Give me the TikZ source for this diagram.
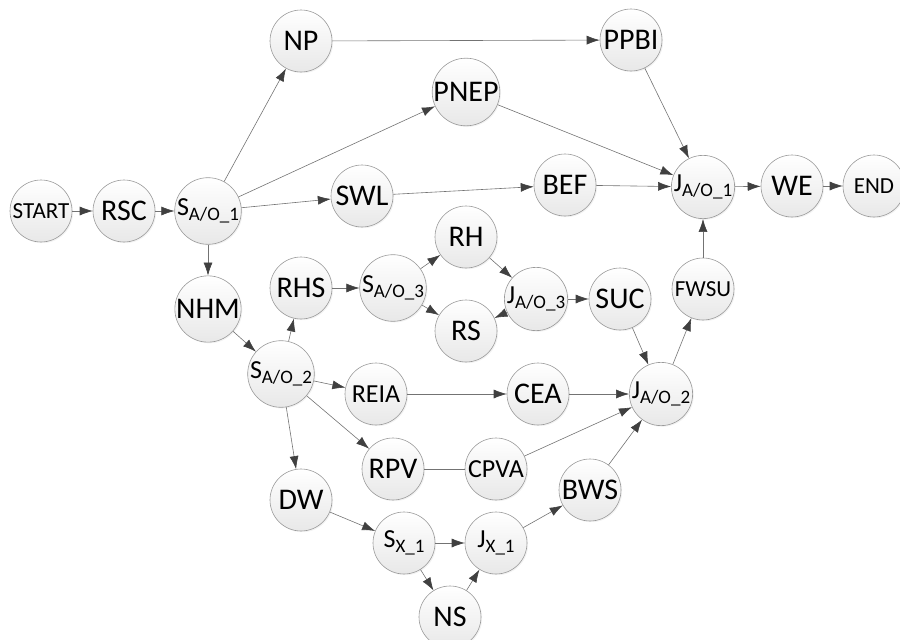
\documentclass[tikz,border=0pt]{standalone}
\usepackage{fontspec}
\setmainfont{Carlito}
\usetikzlibrary{arrows.meta,shadows}

% label with a lowered, smaller subscript part
\newcommand\sublab[2]{#1{\fontsize{19}{19}\selectfont\raisebox{-5.5pt}{#2}}}

\begin{document}
\begin{tikzpicture}[x=1pt,y=-1pt,
  state/.style={circle, minimum size=62pt, inner sep=0pt,
    draw=black!40, line width=0.6pt,
    top color=white, bottom color=black!9,
    drop shadow={opacity=0.10, shadow xshift=1.2pt, shadow yshift=-1.2pt},
    font=\fontsize{30}{32}\selectfont},
  smallfont/.style={font=\fontsize{23}{25}\selectfont},
  midfont/.style={font=\fontsize{26}{28}\selectfont},
  subfont/.style={font=\fontsize{26}{28}\selectfont},
  flow/.style={draw=black!55, line width=0.6pt,
    -{Latex[length=13pt,width=9pt,color=black!75]}},
  plain/.style={draw=black!55, line width=0.6pt}
]
\useasboundingbox (0,0) rectangle (900,640);

% main row
\node[state, smallfont] (start) at (41,211) {START};
\node[state] (rsc) at (124,211) {RSC};
\node[state, subfont] (sa1) at (208,211) {\sublab{S}{A/O\_1}};
\node[state] (swl) at (362,196) {SWL};
\node[state] (bef) at (565,185) {BEF};
\node[state, subfont] (ja1) at (703,187) {\sublab{J}{A/O\_1}};
\node[state] (we) at (792,186) {WE};
\node[state, smallfont] (end) at (874,186) {END};

% upper branch
\node[state] (np) at (301,41) {NP};
\node[state] (ppbi) at (631,40) {PPBI};
\node[state] (pnep) at (466,92) {PNEP};

% lower branches
\node[state] (nhm) at (208,309) {NHM};
\node[state] (rhs) at (301,288) {RHS};
\node[state, subfont] (sa3) at (393,288) {\sublab{S}{A/O\_3}};
\node[state] (rh) at (466,237) {RH};
\node[state] (rs) at (466,331) {RS};
\node[state, subfont] (ja3) at (536,299) {\sublab{J}{A/O\_3}};
\node[state] (suc) at (620,299) {SUC};
\node[state, smallfont] (fwsu) at (703,289) {FWSU};

\node[state, subfont] (sa2) at (281,374) {\sublab{S}{A/O\_2}};
\node[state, midfont] (reia) at (376,394) {REIA};
\node[state] (cea) at (538,394) {CEA};
\node[state, subfont] (ja2) at (661,394) {\sublab{J}{A/O\_2}};

\node[state] (rpv) at (393,469) {RPV};
\node[state, midfont] (cpva) at (496,469) {CPVA};
\node[state] (bws) at (590,490) {BWS};

\node[state] (dw) at (301,500) {DW};
\node[state, subfont] (sx1) at (404,543) {\sublab{S}{X\_1}};
\node[state, subfont] (jx1) at (496,543) {\sublab{J}{X\_1}};
\node[state] (ns) at (450,617) {NS};

% connectors
\draw[flow] (start) -- (rsc);
\draw[flow] (rsc) -- (sa1);
\draw[flow] (sa1) -- (np);
\draw[flow] (sa1) -- (pnep);
\draw[flow] (sa1) -- (swl);
\draw[flow] (sa1) -- (nhm);
\draw[flow] (np) -- (ppbi);
\draw[flow] (ppbi) -- (ja1);
\draw[flow] (pnep) -- (ja1);
\draw[flow] (swl) -- (bef);
\draw[flow] (bef) -- (ja1);
\draw[flow] (ja1) -- (we);
\draw[flow] (we) -- (end);
\draw[flow] (fwsu) -- (ja1);

\draw[flow] (nhm) -- (sa2);
\draw[flow] (sa2) -- (rhs);
\draw[flow] (rhs) -- (sa3);
\draw[flow] (sa3) -- (rh);
\draw[flow] (sa3) -- (rs);
\draw[flow] (rh) -- (ja3);
\draw[flow] (ja3) -- (rs);
\draw[flow] (ja3) -- (suc);
\draw[flow] (suc) -- (ja2);
\draw[flow] (ja2) -- (fwsu);

\draw[flow] (sa2) -- (reia);
\draw[flow] (reia) -- (cea);
\draw[flow] (cea) -- (ja2);
\draw[flow] (sa2) -- (rpv);
\draw[plain] (rpv) -- (cpva);
\draw[flow] (cpva) -- (ja2);
\draw[flow] (sa2) -- (dw);
\draw[flow] (dw) -- (sx1);
\draw[flow] (sx1) -- (jx1);
\draw[flow] (sx1) -- (ns);
\draw[flow] (ns) -- (jx1);
\draw[flow] (jx1) -- (bws);
\draw[flow] (bws) -- (ja2);
\end{tikzpicture}
\end{document}
